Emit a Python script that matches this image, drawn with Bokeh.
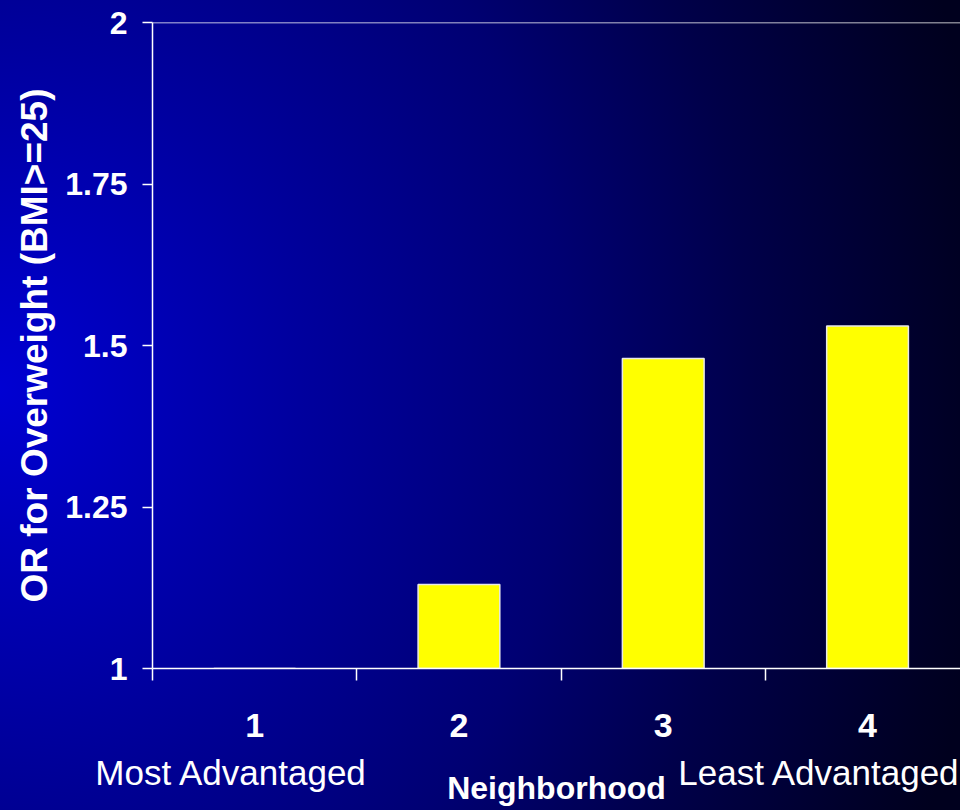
from bokeh.plotting import figure
from bokeh.models import LinearAxis, FixedTicker, Range1d, Span, ColumnDataSource
from bokeh.embed import file_html
from bokeh.resources import INLINE

categories = [1, 2, 3, 4]
cat_labels = ["1", "2", "3", "4"]
odds_ratio = [1.0, 1.13, 1.48, 1.53]
end_label_text = ["Most Advantaged", "Least Advantaged"]
end_label_x = [0.887, 4.112]
y_ticks = [1, 1.25, 1.5, 1.75, 2]
y_tick_labels = ["1", "1.25", "1.5", "1.75", "2"]

FONT = "Liberation Sans"
WHITE = "#ffffff"

p = figure(width=960, height=810, x_range=Range1d(0.5, 4.455), y_range=Range1d(1, 2),
           output_backend="svg", toolbar_location=None,
           min_border_left=152, min_border_top=22, min_border_bottom=142, min_border_right=0)
p.background_fill_alpha = 0
p.border_fill_alpha = 0
p.outline_line_color = None
p.grid.visible = False
p.styles = {"background": "radial-gradient(ellipse 1000px 1150px at 0% 48%, #0000d2 0%, #00009e 30%, #000072 57%, #00004a 75%, #000024 96%, #00001e 100%)"}

src = ColumnDataSource(dict(x=categories, top=odds_ratio, bottom=[1.0] * len(categories)))
p.vbar(x="x", top="top", bottom="bottom", width=0.4, source=src,
       fill_color="#ffff00", line_color="#e8e8e8", line_width=1.5)

# y axis
ya = p.yaxis[0]
ya.ticker = FixedTicker(ticks=y_ticks)
ya.major_label_overrides = {t: l for t, l in zip(y_ticks, y_tick_labels)}
ya.axis_line_color = WHITE
ya.axis_line_width = 1.5
ya.major_tick_line_color = WHITE
ya.major_tick_line_width = 1.5
ya.major_tick_out = 10
ya.major_tick_in = 0
ya.minor_tick_line_color = None
ya.major_label_text_color = WHITE
ya.major_label_text_font = FONT
ya.major_label_text_font_style = "bold"
ya.major_label_text_font_size = "32px"
ya.major_label_standoff = 15
ya.axis_label = "OR for Overweight (BMI>=25)"
ya.axis_label_text_color = WHITE
ya.axis_label_text_font = FONT
ya.axis_label_text_font_style = "bold"
ya.axis_label_text_font_size = "37px"
ya.axis_label_standoff = 7

# x axis (numbers + boundary ticks)
xa = p.xaxis[0]
xa.ticker = FixedTicker(ticks=categories, minor_ticks=[0.5, 1.5, 2.5, 3.5, 4.5])
xa.major_label_overrides = {c: l for c, l in zip(categories, cat_labels)}
xa.axis_line_color = WHITE
xa.axis_line_width = 1.5
xa.major_tick_line_color = None
xa.major_tick_out = 0
xa.major_tick_in = 0
xa.minor_tick_line_color = WHITE
xa.minor_tick_line_width = 1.5
xa.minor_tick_out = 12
xa.minor_tick_in = 0
xa.major_label_text_color = WHITE
xa.major_label_text_font = FONT
xa.major_label_text_font_style = "bold"
xa.major_label_text_font_size = "34px"
xa.major_label_standoff = 33

# second row: end descriptions + axis title
xa2 = LinearAxis(ticker=FixedTicker(ticks=end_label_x),
                 major_label_overrides={xv: t for xv, t in zip(end_label_x, end_label_text)})
xa2.axis_line_color = None
xa2.major_tick_line_color = None
xa2.minor_tick_line_color = None
xa2.major_label_text_color = WHITE
xa2.major_label_text_font = FONT
xa2.major_label_text_font_size = "35px"
xa2.major_label_standoff = 7
xa2.axis_label = "Neighborhood"
xa2.axis_label_text_color = WHITE
xa2.axis_label_text_font = FONT
xa2.axis_label_text_font_style = "bold"
xa2.axis_label_text_font_size = "32px"
xa2.axis_label_standoff = -25
p.add_layout(xa2, "below")

p.add_layout(Span(location=2, dimension="width", line_color=WHITE, line_width=1.5))

open("out.html", "w").write(file_html(p, INLINE))
